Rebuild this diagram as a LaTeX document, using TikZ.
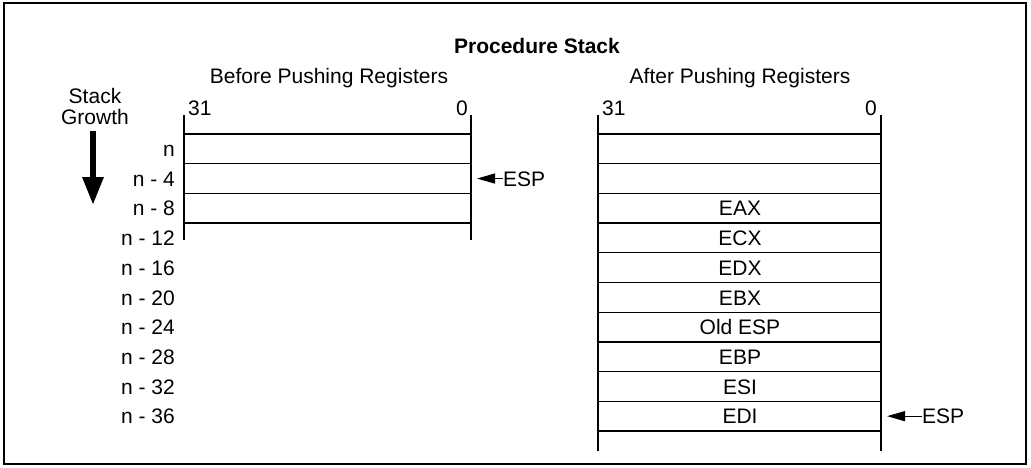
\documentclass[tikz,border=0pt]{standalone}
\usepackage{fontspec}
\setmainfont{Liberation Sans}
\usetikzlibrary{arrows.meta}

\begin{document}
\begin{tikzpicture}[x=1pt,y=-1pt,
    txt/.style={font=\fontsize{21}{21}\selectfont,inner sep=0pt},
    rowlabel/.style={txt,anchor=base east},
    cell/.style={txt,anchor=base},
    stackline/.style={line width=1.3pt},
    >={Triangle[length=18pt,width=10pt]}]

\useasboundingbox (0,0) rectangle (1031,467);
\draw[line width=2pt] (4,3) rectangle (1026,464);

% Titles
\node[txt,font=\fontsize{21}{21}\selectfont\bfseries] (title) at (537,46) {Procedure Stack};
\node[txt] (before) at (329,78) {Before Pushing Registers};
\node[txt] (after) at (740,78) {After Pushing Registers};

% Bit numbers
\node[txt,anchor=base west] (b31) at (188,115) {31};
\node[txt,anchor=base east] (b0) at (468,115) {0};
\node[txt,anchor=base west] (a31) at (602,115) {31};
\node[txt,anchor=base east] (a0) at (877,115) {0};

% Stack growth
\node[txt,align=center] (growth) at (95,106) {Stack\\Growth};
\coordinate (growthtop) at (93,131);
\coordinate (growthtip) at (93,205);
\draw[line width=6pt,-{Triangle[length=28pt,width=20pt]}] (growthtop) -- (growthtip);

% Addresses
\foreach \lab [count=\i from 0] in {n,n - 4,n - 8,n - 12,n - 16,n - 20,n - 24,n - 28,n - 32,n - 36}
  \node[rowlabel] (addr\i) at (175,{134+29.7*\i+22.5}) {\lab};

% Before: stack
\draw[stackline] (184,115) -- (184,240);
\draw[stackline] (471,115) -- (471,240);
\foreach \k in {0,1,2,3}
  \draw[stackline] (184,{134+29.7*\k}) -- (471,{134+29.7*\k});

% After: stack
\draw[stackline] (598,115) -- (598,451);
\draw[stackline] (881,115) -- (881,451);
\foreach \k in {0,...,10}
  \draw[stackline] (598,{134+29.7*\k}) -- (881,{134+29.7*\k});
\foreach \reg [count=\i from 2] in {EAX,ECX,EDX,EBX,Old ESP,EBP,ESI,EDI}
  \node[cell] (reg\i) at (740,{134+29.7*\i+22.5}) {\reg};

% ESP pointers
\node[txt,anchor=base west] (espb) at (503,{134+29.7+22.5}) {ESP};
\coordinate (espbtip) at (477,{134+29.7*1.5});
\draw[stackline,->] (espb.west |- espbtip) -- (espbtip);

\node[txt,anchor=base west] (espa) at (922,{134+29.7*9+22.5}) {ESP};
\coordinate (espatip) at (887,{134+29.7*9.5});
\draw[stackline,->] (espa.west |- espatip) -- (espatip);

\end{tikzpicture}
\end{document}
